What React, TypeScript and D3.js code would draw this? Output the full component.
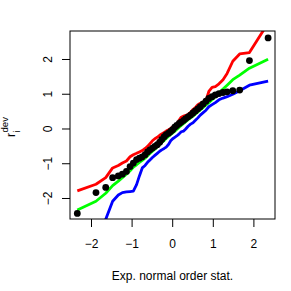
import React from "react";
import * as d3 from "d3";

// expected normal order statistics (x) and observed deviance residuals
const expOrder = [
  -2.35, -1.89, -1.65, -1.48, -1.34, -1.24, -1.14, -1.05, -0.97, -0.89,
  -0.82, -0.75, -0.68, -0.62, -0.56, -0.5, -0.44, -0.38, -0.32, -0.27,
  -0.21, -0.16, -0.1, -0.05, 0.0, 0.05, 0.1, 0.16, 0.21, 0.27,
  0.32, 0.38, 0.44, 0.5, 0.56, 0.62, 0.68, 0.75, 0.82, 0.89,
  0.97, 1.05, 1.14, 1.24, 1.34, 1.48, 1.65, 1.89, 2.35,
];
const residDev = [
  -2.43, -1.83, -1.68, -1.4, -1.35, -1.3, -1.22, -1.08, -0.98, -0.88,
  -0.84, -0.8, -0.74, -0.66, -0.6, -0.55, -0.5, -0.45, -0.38, -0.3,
  -0.22, -0.16, -0.12, -0.07, -0.02, 0.05, 0.1, 0.16, 0.2, 0.25,
  0.3, 0.35, 0.4, 0.46, 0.52, 0.58, 0.64, 0.72, 0.8, 0.88,
  0.93, 0.98, 1.02, 1.05, 1.07, 1.1, 1.12, 1.97, 2.62,
];
// simulation envelope: upper, median, lower
const envUpper = [
  -1.78, -1.59, -1.4, -1.12, -1.05, -0.98, -0.92, -0.8, -0.74, -0.7,
  -0.66, -0.62, -0.56, -0.5, -0.42, -0.34, -0.28, -0.24, -0.18, -0.14,
  -0.1, -0.06, -0.02, 0.02, 0.06, 0.08, 0.12, 0.26, 0.34, 0.37,
  0.39, 0.42, 0.48, 0.56, 0.62, 0.7, 0.74, 0.78, 0.82, 1.08,
  1.2, 1.22, 1.3, 1.42, 1.6, 1.95, 2.16, 2.2, 3.05,
];
const envMedian = [
  -2.33, -2.08, -1.85, -1.63, -1.5, -1.4, -1.3, -1.2, -1.1, -1.03,
  -0.96, -0.9, -0.84, -0.77, -0.7, -0.64, -0.58, -0.51, -0.45, -0.39,
  -0.33, -0.27, -0.21, -0.16, -0.11, -0.06, -0.01, 0.05, 0.1, 0.16,
  0.21, 0.27, 0.32, 0.37, 0.43, 0.49, 0.55, 0.62, 0.69, 0.76,
  0.84, 0.93, 1.04, 1.15, 1.26, 1.42, 1.55, 1.75, 2.01,
];
const envLower = [
  -3.6, -3.0, -2.6, -2.08, -1.9, -1.83, -1.81, -1.8, -1.79, -1.6,
  -1.35, -1.12, -1.05, -0.96, -0.89, -0.82, -0.76, -0.7, -0.64, -0.6,
  -0.56, -0.52, -0.44, -0.34, -0.28, -0.24, -0.2, -0.14, -0.08, -0.06,
  0.0, 0.08, 0.14, 0.18, 0.25, 0.32, 0.4, 0.47, 0.54, 0.64,
  0.7, 0.76, 0.84, 0.89, 0.93, 1.0, 1.1, 1.26, 1.38,
];
const xTicks = [-2, -1, 0, 1, 2];
const yTicks = [-2, -1, 0, 1, 2];

const W = 291;
const H = 291;
const plot = { left: 70, right: 275, top: 31, bottom: 219 };
const font = "'Liberation Sans', Arial, sans-serif";

export default function App() {
  const x = d3.scaleLinear().domain([-2.53, 2.52]).range([plot.left, plot.right]);
  const y = d3.scaleLinear().domain([-2.59, 2.82]).range([plot.bottom, plot.top]);

  const line = (vals: number[]) =>
    d3
      .line<number>()
      .x((_, i) => x(expOrder[i]))
      .y((v) => y(v))(vals) || "";

  const envelopes = [
    { vals: envUpper, color: "#ff0000" },
    { vals: envMedian, color: "#00ff00" },
    { vals: envLower, color: "#0000ff" },
  ];

  return (
    <svg
      width={W}
      height={H}
      style={{ position: "absolute", left: 0, top: 0, background: "#fff" }}
      fontFamily={font}
    >
      <defs>
        <clipPath id="plotclip">
          <rect x={plot.left} y={plot.top} width={plot.right - plot.left} height={plot.bottom - plot.top} />
        </clipPath>
      </defs>

      <g clipPath="url(#plotclip)">
        {envelopes.map((e) => (
          <path key={e.color} d={line(e.vals)} fill="none" stroke={e.color} strokeWidth={2.8} strokeLinejoin="round" />
        ))}
        {residDev.map((v, i) => (
          <circle key={i} cx={x(expOrder[i])} cy={y(v)} r={3.4} fill="#000" />
        ))}
      </g>

      <rect
        x={plot.left}
        y={plot.top}
        width={plot.right - plot.left}
        height={plot.bottom - plot.top}
        fill="none"
        stroke="#000"
        strokeWidth={1}
      />

      {/* x axis */}
      {xTicks.map((t) => (
        <g key={t}>
          <line x1={x(t)} x2={x(t)} y1={plot.bottom} y2={plot.bottom + 8} stroke="#000" />
          <text x={x(t)} y={248} textAnchor="middle" fontSize={12}>
            {t < 0 ? "\u2212" + Math.abs(t) : t}
          </text>
        </g>
      ))}
      <text x={(plot.left + plot.right) / 2} y={280} textAnchor="middle" fontSize={12}>
        Exp. normal order stat.
      </text>

      {/* y axis */}
      {yTicks.map((t) => (
        <g key={t}>
          <line x1={plot.left - 8} x2={plot.left} y1={y(t)} y2={y(t)} stroke="#000" />
          <text
            transform={`translate(52,${y(t)}) rotate(-90)`}
            textAnchor="middle"
            fontSize={12}
          >
            {t < 0 ? "\u2212" + Math.abs(t) : t}
          </text>
        </g>
      ))}
      <g transform="translate(15,137) rotate(-90)">
        <text x={0} y={0} fontSize={12}>r</text>
        <text x={4.5} y={5} fontSize={9.6}>i</text>
        <text x={4.5} y={-7} fontSize={9.6}>dev</text>
      </g>
    </svg>
  );
}
